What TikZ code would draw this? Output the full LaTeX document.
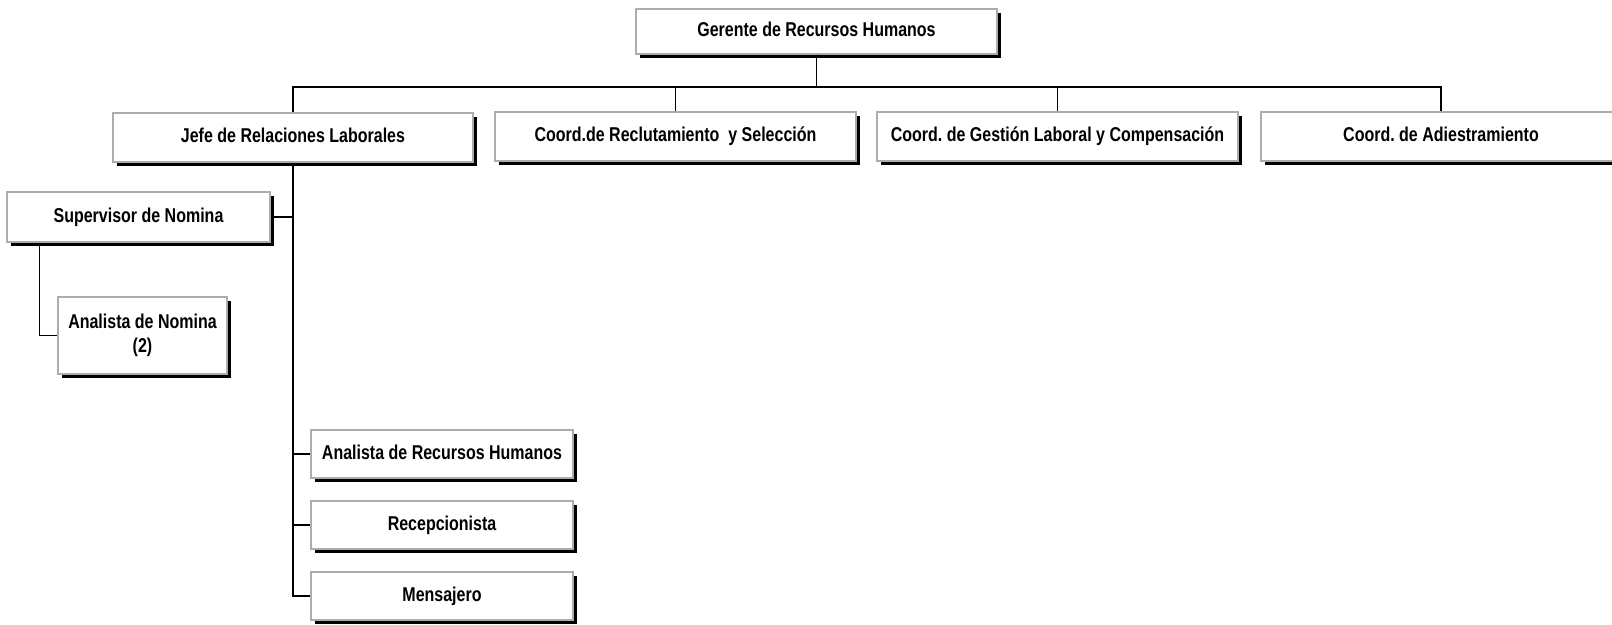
\documentclass[tikz,border=0pt]{standalone}
\usepackage{fontspec}
\setmainfont{Liberation Sans}[FakeStretch=0.8]
\usetikzlibrary{positioning, shadows}
\frenchspacing

\begin{document}
\begin{tikzpicture}[x=1pt, y=-1pt,
    puesto/.style={draw=gray!65, line width=1.3pt, fill=white, align=center,
        font=\fontsize{20}{24}\selectfont\bfseries, inner sep=0pt,
        text height=14.5pt, text depth=4pt, minimum height=49pt,
        drop shadow={shadow xshift=4pt, shadow yshift=-4pt, fill=black, opacity=1}},
    linea/.style={line width=1.5pt}]
    \useasboundingbox (0,0) rectangle (1612,624);

    \node[puesto, minimum width=361pt, minimum height=45pt] (ger) at (816.5,31.5) {Gerente de Recursos Humanos};
    \coordinate (bus) at (0,87);

    \node[puesto, minimum width=360pt] (jefe) at (293,137.5) {Jefe de Relaciones Laborales};
    \node[puesto, minimum width=361pt] (recl) at (675.5,136.5) {Coord.de Reclutamiento\ \ y Selección};
    \node[puesto, minimum width=361pt] (gest) at (1057.5,136.5) {Coord. de Gestión Laboral y Compensación};
    \node[puesto, minimum width=360pt] (adie) at (1441,136.5) {Coord. de Adiestramiento};

    \node[puesto, minimum width=263pt, minimum height=50pt] (sup) at (138.5,217) {Supervisor de Nomina};
    \node[puesto, minimum width=169pt, minimum height=77pt, text height={}, text depth={}] (anom) at (142.5,335.5) {Analista de Nomina\\(2)};

    \node[puesto, minimum width=262pt, minimum height=48pt] (arh) at (442,454) {Analista de Recursos Humanos};
    \node[puesto, minimum width=262pt, minimum height=48pt] (rec) at (442,525) {Recepcionista};
    \node[puesto, minimum width=262pt, minimum height=48pt] (mens) at (442,596) {Mensajero};

    % conexiones
    \foreach \n in {jefe,recl,gest,adie}
        \draw[linea] (ger.south) -- (ger.south |- bus) -| (\n.north);
    \foreach \n in {arh,rec,mens}
        \draw[linea] (jefe.south) |- (\n.west);
    \draw[linea] (jefe.south) |- (sup.east);
    \draw[linea] ([xshift=33pt]sup.south west) |- (anom.west);
\end{tikzpicture}
\end{document}
